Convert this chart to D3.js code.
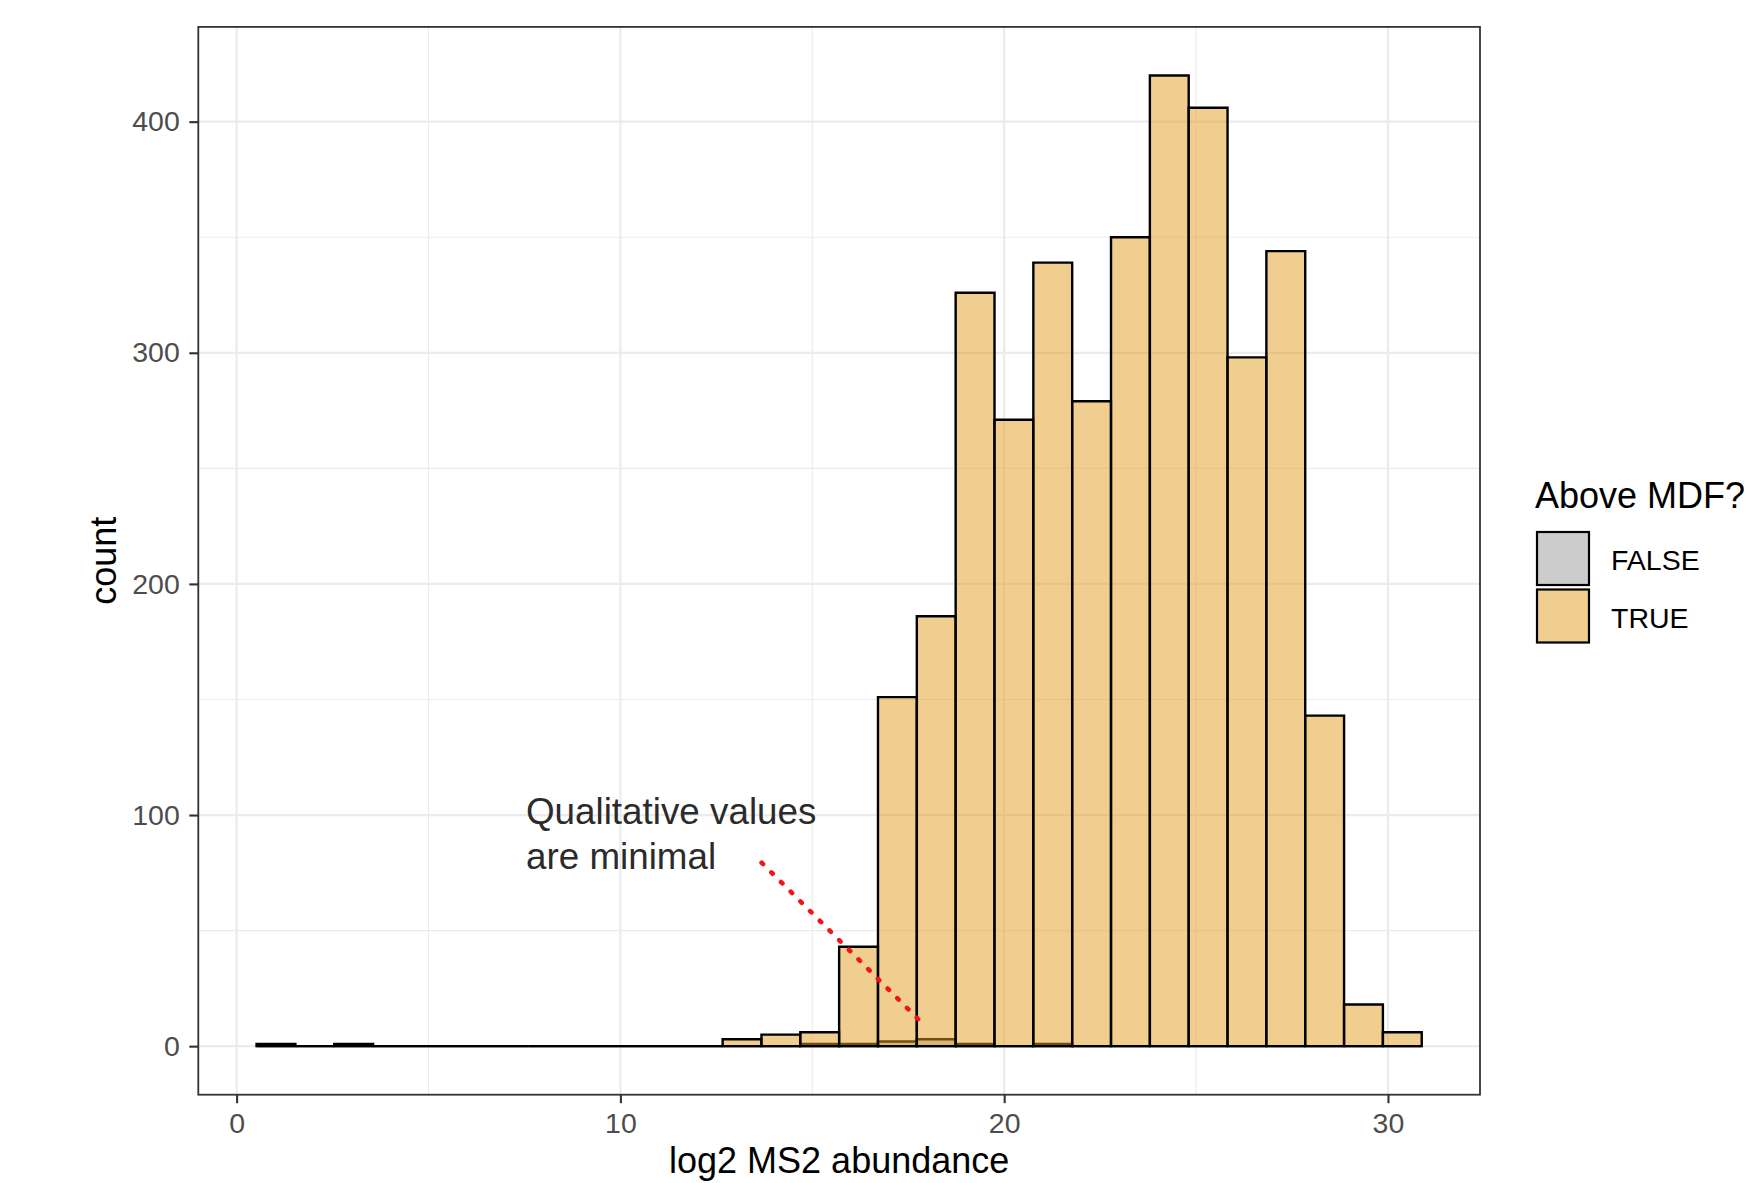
<!DOCTYPE html>
<html>
<head>
<meta charset="utf-8">
<title>log2 MS2 abundance</title>
<script src="https://cdn.jsdelivr.net/npm/d3@7"></script>
<style>
  body { margin: 0; background: #fff; }
  text { font-family: "Liberation Sans", Arial, Helvetica, sans-serif; }
</style>
</head>
<body>
<script>

// histogram bins (30 bins, as ggplot's default)
var binStart = 0.52, binWidth = 1.012;
var countTrue  = [1, 0, 1, 0, 0, 0, 0, 0, 0, 0, 0, 0, 3, 5, 6, 43, 151, 186, 326, 271,
                  339, 279, 350, 420, 406, 298, 344, 143, 18, 6];
var countFalse = [0, 0, 0, 0, 0, 0, 0, 0, 0, 0, 0, 0, 0, 0, 1, 1, 2, 3, 1, 0,
                  1, 0, 0, 0, 0, 0, 0, 0, 0, 0];

var groups = ["FALSE", "TRUE"];
var groupFill = {"FALSE": "#999999", "TRUE": "#E29E22"};

var xTicks = [0, 10, 20, 30];
var xMinor = [5, 15, 25];
var yTicks = [0, 100, 200, 300, 400];
var yMinor = [50, 150, 250, 350];

// annotation (data units)
var noteLines = ["Qualitative values", "are minimal"];
var notePos = [7.54, 96];
var pointer = [[13.68, 79.4], [17.91, 9.2]];

var width = 1759, height = 1183;
var pLeft = 198.3, pRight = 1480, pTop = 26.9, pBottom = 1094.7;

var svg = d3.select("body").append("svg")
    .attr("width", width).attr("height", height);
svg.append("rect").attr("width", width).attr("height", height).attr("fill", "#fff");

var xLo = binStart, xHi = binStart + countTrue.length * binWidth;
var xPad = (xHi - xLo) * 0.05;
var yMax = d3.max(countTrue.concat(countFalse));

var x = d3.scaleLinear().domain([xLo - xPad, xHi + xPad]).range([pLeft, pRight]);
var y = d3.scaleLinear().domain([-yMax * 0.05, yMax * 1.05]).range([pBottom, pTop]);

// grid
var grid = svg.append("g");
grid.selectAll(".ymin").data(yMinor).enter().append("line")
    .attr("x1", pLeft).attr("x2", pRight)
    .attr("y1", d => y(d)).attr("y2", d => y(d))
    .attr("stroke", "#EBEBEB").attr("stroke-width", 1.1);
grid.selectAll(".xmin").data(xMinor).enter().append("line")
    .attr("y1", pTop).attr("y2", pBottom)
    .attr("x1", d => x(d)).attr("x2", d => x(d))
    .attr("stroke", "#EBEBEB").attr("stroke-width", 1.1);
grid.selectAll(".ymaj").data(yTicks).enter().append("line")
    .attr("x1", pLeft).attr("x2", pRight)
    .attr("y1", d => y(d)).attr("y2", d => y(d))
    .attr("stroke", "#EBEBEB").attr("stroke-width", 2.2);
grid.selectAll(".xmaj").data(xTicks).enter().append("line")
    .attr("y1", pTop).attr("y2", pBottom)
    .attr("x1", d => x(d)).attr("x2", d => x(d))
    .attr("stroke", "#EBEBEB").attr("stroke-width", 2.2);

// bars as closed paths so empty bins still show their outline on the baseline
function barPath(d, i) {
  var x0 = x(binStart + i * binWidth), x1 = x(binStart + (i + 1) * binWidth);
  var y0 = y(0), y1 = y(d);
  return "M" + x0 + "," + y0 + "H" + x1 + "V" + y1 + "H" + x0 + "Z";
}

// FALSE drawn first, TRUE on top
var series = {"FALSE": countFalse, "TRUE": countTrue};
groups.forEach(function(g) {
  svg.append("g").selectAll("path").data(series[g]).enter().append("path")
      .attr("d", barPath)
      .attr("fill", groupFill[g]).attr("fill-opacity", 0.5)
      .attr("stroke", "#000").attr("stroke-width", 2.4)
      .attr("stroke-linejoin", "miter");
});

// annotation
svg.append("line")
    .attr("x1", x(pointer[0][0])).attr("y1", y(pointer[0][1]))
    .attr("x2", x(pointer[1][0])).attr("y2", y(pointer[1][1]))
    .attr("stroke", "#F3141B").attr("stroke-width", 4.6)
    .attr("stroke-linecap", "round").attr("stroke-dasharray", "2,11.7");

svg.append("g").selectAll("text").data(noteLines).enter().append("text")
    .attr("x", x(notePos[0]))
    .attr("y", (d, i) => y(notePos[1]) + i * 44.7)
    .attr("font-size", 36.8).attr("fill", "#2b2b2b")
    .text(d => d);

// panel border
svg.append("rect")
    .attr("x", pLeft).attr("y", pTop)
    .attr("width", pRight - pLeft).attr("height", pBottom - pTop)
    .attr("fill", "none").attr("stroke", "#333333").attr("stroke-width", 1.8);

// axes
var xAxis = svg.append("g").attr("transform", "translate(0," + pBottom + ")")
    .call(d3.axisBottom(x).tickValues(xTicks).tickSize(8.5).tickPadding(10));
var yAxis = svg.append("g").attr("transform", "translate(" + pLeft + ",0)")
    .call(d3.axisLeft(y).tickValues(yTicks).tickSize(9).tickPadding(9.5));
[xAxis, yAxis].forEach(function(a) {
  a.select(".domain").remove();
  a.selectAll(".tick line").attr("stroke", "#333333").attr("stroke-width", 2.1);
  a.selectAll(".tick text").attr("fill", "#4D4D4D")
      .style("font-size", "28.5px")
      .style("font-family", '"Liberation Sans", Arial, Helvetica, sans-serif');
});

svg.append("text")
    .attr("x", (pLeft + pRight) / 2).attr("y", 1173)
    .attr("text-anchor", "middle").attr("font-size", 36).attr("fill", "#000")
    .text("log2 MS2 abundance");

svg.append("text")
    .attr("transform", "translate(116," + (pTop + pBottom) / 2 + ") rotate(-90)")
    .attr("text-anchor", "middle").attr("font-size", 36).attr("fill", "#000")
    .text("count");

// legend
var legend = svg.append("g");
legend.append("text")
    .attr("x", 1535).attr("y", 508)
    .attr("font-size", 36).attr("fill", "#000")
    .text("Above MDF?");
var keys = legend.selectAll(".key").data(groups).enter().append("g")
    .attr("transform", (d, i) => "translate(1537," + (532 + i * 57.5) + ")");
keys.append("rect")
    .attr("width", 52).attr("height", 53)
    .attr("fill", d => groupFill[d]).attr("fill-opacity", 0.5)
    .attr("stroke", "#000").attr("stroke-width", 2.2);
keys.append("text")
    .attr("x", 74).attr("y", 38)
    .attr("font-size", 28.5).attr("fill", "#000")
    .text(d => d);

</script>
</body>
</html>
